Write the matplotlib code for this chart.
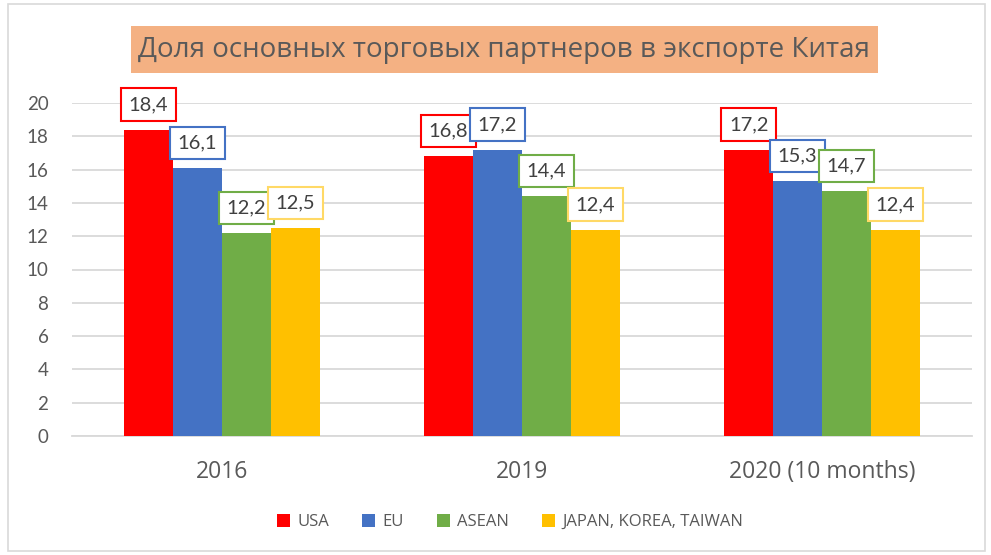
import matplotlib
matplotlib.use("Agg")
import matplotlib.pyplot as plt
from matplotlib.patches import Rectangle
import numpy as np

categories = ["2016", "2019", "2020 (10 months)"]
series_names = ["USA", "EU", "ASEAN", "JAPAN, KOREA, TAIWAN"]
usa = [18.4, 16.8, 17.2]
eu = [16.1, 17.2, 15.3]
asean = [12.2, 14.4, 14.7]
jkt = [12.5, 12.4, 12.4]
values = [usa, eu, asean, jkt]
labels = [["18,4", "16,8", "17,2"], ["16,1", "17,2", "15,3"],
          ["12,2", "14,4", "14,7"], ["12,5", "12,4", "12,4"]]
yticks = list(range(0, 21, 2))
title = "Доля основных торговых партнеров в экспорте Китая"

colors = ["#FF0000", "#4472C4", "#70AD47", "#FFC000"]
edge_colors = ["#FF0000", "#4472C4", "#70AD47", "#FFD966"]
text_color = "#595959"
osans = ['Open Sans', 'DejaVu Sans']

plt.rcParams['font.family'] = ['Lato', 'DejaVu Sans']

W, H = 991, 555
fig = plt.figure(figsize=(W / 100, H / 100), dpi=100)
fig.patch.set_facecolor("white")

# outer chart border
fig.patches.append(Rectangle((8 / W, 4 / H), (W - 14) / W, (H - 8) / H,
                             transform=fig.transFigure, fill=False,
                             edgecolor="#D9D9D9", linewidth=1.2))
# title background
fig.patches.append(Rectangle((131 / W, (H - 73) / H), 747 / W, 47 / H,
                             transform=fig.transFigure, facecolor="#F4B183",
                             edgecolor="none"))

ax = fig.add_axes([72 / W, (H - 436) / H, 900 / W, 333 / H])
ax.set_xlim(-0.5, 2.5)
ax.set_ylim(0, 20)

x = np.arange(len(categories))
bw = 0.163
offsets = [-1.5, -0.5, 0.5, 1.5]
for i, (vals, c) in enumerate(zip(values, colors)):
    ax.bar(x + offsets[i] * bw, vals, width=bw, color=c, label=series_names[i], zorder=3)
    for j, v in enumerate(vals):
        ax.annotate(labels[i][j], (x[j] + offsets[i] * bw, v), xytext=(0, 25),
                    textcoords="offset pixels", ha="center", va="center",
                    fontsize=14.5, color="#404040", zorder=5,
                    bbox=dict(boxstyle="square,pad=0.38", facecolor="white",
                              edgecolor=edge_colors[i], linewidth=1.5))

ax.set_yticks(yticks)
ax.set_yticklabels([str(t) for t in yticks])
ax.set_xticks(x)
ax.set_xticklabels(categories, family=osans)
ax.tick_params(axis="y", length=0, labelsize=13.5, labelcolor=text_color, pad=17)
ax.tick_params(axis="x", length=0, labelsize=16.5, labelcolor=text_color, pad=17)
ax.grid(axis="y", color="#D9D9D9", linewidth=1.3, zorder=0)
ax.set_axisbelow(True)
for s in ["top", "right", "left"]:
    ax.spines[s].set_visible(False)
ax.spines["bottom"].set_color("#D9D9D9")
ax.spines["bottom"].set_linewidth(1.3)

fig.text(504 / W, (H - 50) / H, title, ha="center", va="center",
         fontsize=20, color=text_color, family=osans)

leg = fig.legend(loc="center", bbox_to_anchor=(510 / W, (H - 522) / H), ncol=4,
                 frameon=False, prop={'family': osans, 'size': 12},
                 handlelength=0.8, handleheight=0.8,
                 handletextpad=0.4, columnspacing=2.0)
for t in leg.get_texts():
    t.set_color(text_color)

fig.savefig("out.png", dpi=100)
